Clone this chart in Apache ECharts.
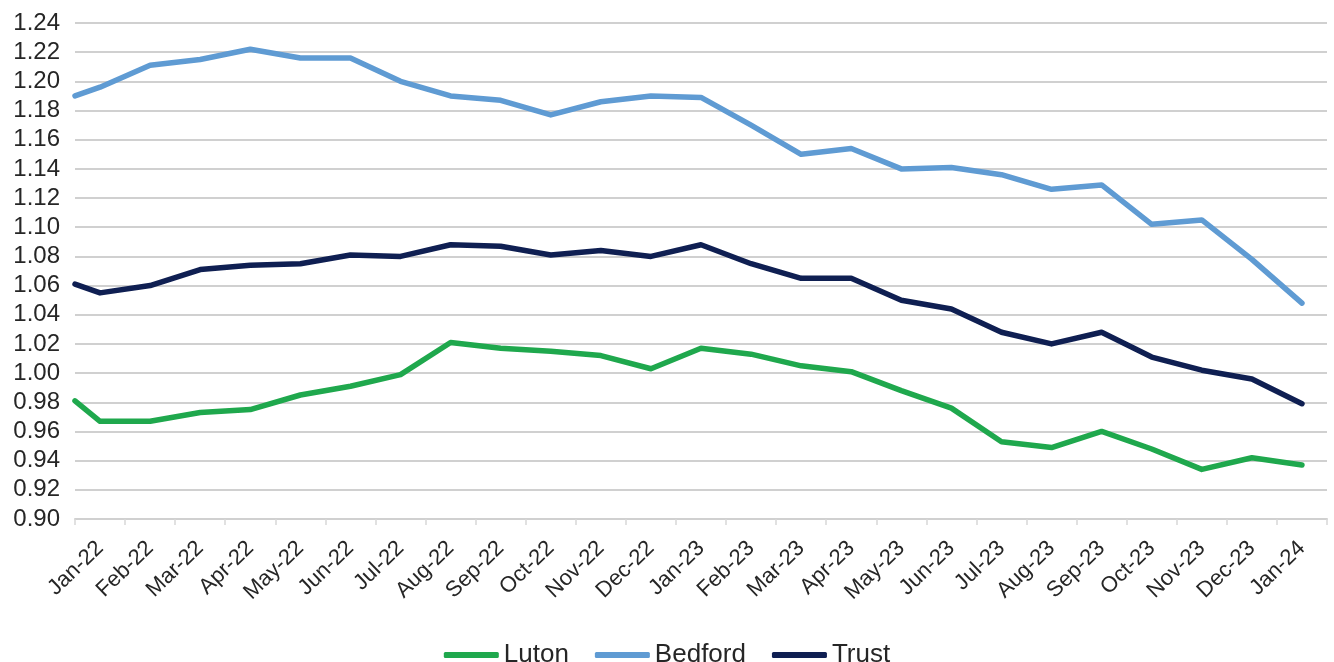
<!DOCTYPE html>
<html>
<head>
<meta charset="utf-8">
<script src="https://cdn.jsdelivr.net/npm/echarts@6/dist/echarts.min.js"></script>
<style>
  html, body { margin: 0; padding: 0; background: #fff; }
  #chart { width: 1334px; height: 662px; }
</style>
</head>
<body>
<div id="chart"></div>
<script>
// month labels shown on the category axis
const monthLabels = [
  'Jan-22', 'Feb-22', 'Mar-22', 'Apr-22', 'May-22', 'Jun-22', 'Jul-22', 'Aug-22',
  'Sep-22', 'Oct-22', 'Nov-22', 'Dec-22', 'Jan-23', 'Feb-23', 'Mar-23', 'Apr-23',
  'May-23', 'Jun-23', 'Jul-23', 'Aug-23', 'Sep-23', 'Oct-23', 'Nov-23', 'Dec-23', 'Jan-24'
];

// where each point sits along the axis (in months, 0 = left edge of Jan-22)
const pointPositions = [
  0, 0.5, 1.5, 2.5, 3.5, 4.5, 5.5, 6.5, 7.5, 8.5, 9.5, 10.5, 11.5,
  12.5, 13.5, 14.5, 15.5, 16.5, 17.5, 18.5, 19.5, 20.5, 21.5, 22.5, 23.5, 24.5
];

const luton = [
  0.981, 0.967, 0.967, 0.973, 0.975, 0.985, 0.991, 0.999, 1.021, 1.017, 1.015, 1.012, 1.003,
  1.017, 1.013, 1.005, 1.001, 0.988, 0.976, 0.953, 0.949, 0.960, 0.948, 0.934, 0.942, 0.937
];
const bedford = [
  1.190, 1.196, 1.211, 1.215, 1.222, 1.216, 1.216, 1.200, 1.190, 1.187, 1.177, 1.186, 1.190,
  1.189, 1.170, 1.150, 1.154, 1.140, 1.141, 1.136, 1.126, 1.129, 1.102, 1.105, 1.078, 1.048
];
const trust = [
  1.061, 1.055, 1.060, 1.071, 1.074, 1.075, 1.081, 1.080, 1.088, 1.087, 1.081, 1.084, 1.080,
  1.088, 1.075, 1.065, 1.065, 1.050, 1.044, 1.028, 1.020, 1.028, 1.011, 1.002, 0.996, 0.979
];

const yTicks = { min: 0.90, max: 1.24, step: 0.02 };

function pairs(values) {
  return values.map((v, i) => [pointPositions[i], v]);
}

const chart = echarts.init(document.getElementById('chart'));

const lineSeries = (name, values, color) => ({
  name,
  type: 'line',
  xAxisIndex: 1,
  data: pairs(values),
  symbol: 'none',
  lineStyle: { color, width: 5.5, cap: 'round', join: 'round' },
  itemStyle: { color },
  animation: false,
});

chart.setOption({
  backgroundColor: '#ffffff',
  textStyle: { fontFamily: 'Liberation Sans, Arial, sans-serif' },
  grid: { left: 75, right: 7, top: 23, bottom: 143 },
  legend: {
    top: 637,
    left: 'center',
    icon: 'roundRect',
    itemWidth: 55,
    itemHeight: 6,
    itemGap: 26,
    textStyle: { fontSize: 26, color: '#262626', fontFamily: 'Liberation Sans, Arial, sans-serif' },
    data: ['Luton', 'Bedford', 'Trust'],
  },
  xAxis: [
    {
      type: 'category',
      data: monthLabels,
      boundaryGap: true,
      axisLine: { show: true, lineStyle: { color: '#d0d0d0', width: 2 } },
      axisTick: { show: true, length: 6, lineStyle: { color: '#d8d8d8', width: 1.5 } },
      axisLabel: {
        interval: 0,
        rotate: 44,
        fontSize: 22,
        color: '#262626',
        margin: 26,
      },
      splitLine: { show: false },
    },
    {
      type: 'value',
      min: 0,
      max: monthLabels.length,
      show: false,
      splitLine: { show: false },
    },
  ],
  yAxis: {
    type: 'value',
    min: yTicks.min,
    max: yTicks.max,
    interval: yTicks.step,
    axisLine: { show: false },
    axisTick: { show: false },
    axisLabel: {
      fontSize: 24,
      color: '#262626',
      margin: 15,
      formatter: (v) => v.toFixed(2),
    },
    splitLine: { lineStyle: { color: '#d0d0d0', width: 2 } },
  },
  series: [
    lineSeries('Luton', luton, '#1fa84d'),
    lineSeries('Bedford', bedford, '#5f9bd3'),
    lineSeries('Trust', trust, '#0f1f52'),
  ],
});
</script>
</body>
</html>
